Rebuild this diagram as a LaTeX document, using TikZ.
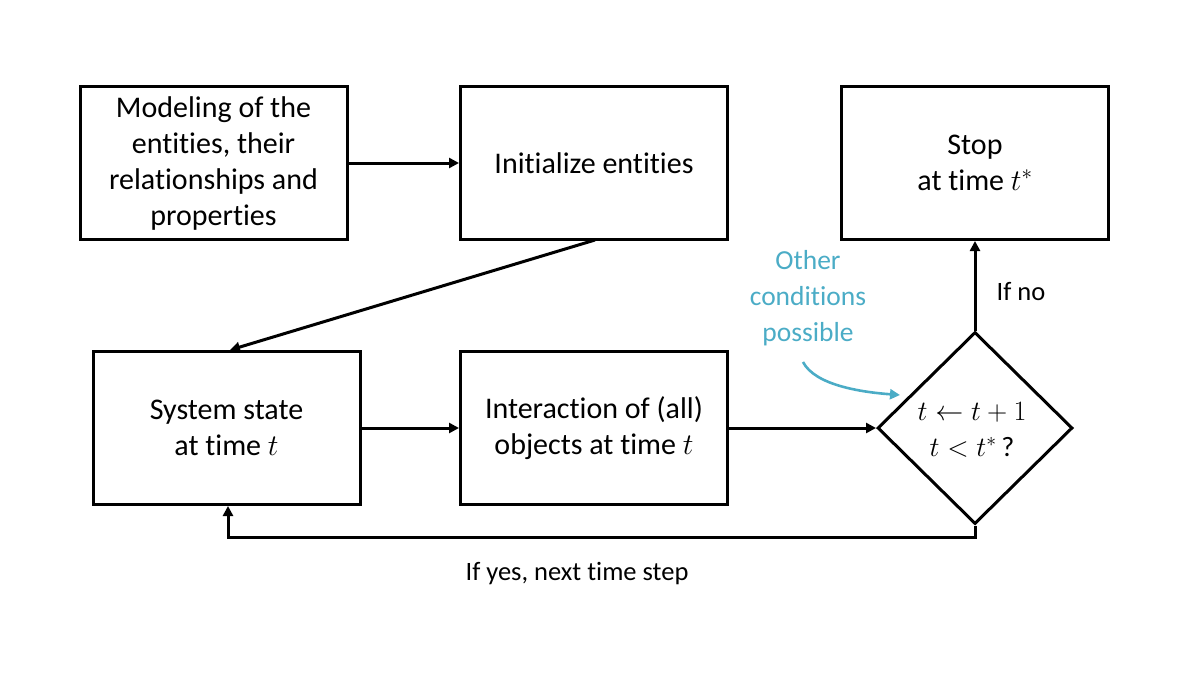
\RequirePackage{fix-cm}
\documentclass[tikz,border=0pt]{standalone}
\usepackage{fontspec}
\setmainfont{Carlito}[RawFeature=-liga]
\usetikzlibrary{arrows.meta,shapes.geometric}
\definecolor{teal1}{RGB}{75,172,198}
\begin{document}
\begin{tikzpicture}[x=1pt,y=-1pt,
  box/.style={draw,line width=3pt,minimum width=267pt,minimum height=153pt,align=center,inner sep=0pt,font=\fontsize{30}{36}\selectfont},
  arr/.style={line width=3pt,-{Triangle[length=10pt,width=10pt]}},
  lbl/.style={font=\fontsize{26.5}{36}\selectfont,align=center}]
\useasboundingbox (0,0) rectangle (1200,675);
\node[box] (A) at (213.5,163) {Modeling of the\\entities, their\\relationships and\\properties};
\node[box] (B) at (594,163) {Initialize entities};
\node[box] (C) at (975,163) {Stop\\at time $t^*$};
\node[box] (D) at (226.5,428) {System state\\at time $t$};
\node[box] (E) at (594,428) {Interaction of (all)\\objects at time $t$};
\node[draw,line width=3pt,diamond,minimum width=195pt,minimum height=192pt,inner sep=0pt,aspect=1.0] (F) at (975,428) {};
\node[font=\fontsize{28}{36}\selectfont,align=center] (Ft) at (972,430) {$t\leftarrow t+1$\\$t<t^*\,$?};
\draw[arr] (A.east) -- (B.west);
\draw[arr] (595,240) -- (230,350);
\draw[arr] (D.east) -- (E.west);
\draw[arr] (E.east) -- (F.west);
\draw[arr] (F.north) -- (C.south);
\coordinate (r) at (975,537);
\coordinate (l) at (228,537);
\draw[arr] (F.south) -- (r) -- (l) -- (l|-D.south);
\node[lbl] (no) at (1021,292) {If no};
\node[lbl] (yes) at (577,574) {If yes, next time step};
\node[font=\fontsize{27.5}{36}\selectfont,align=center,text=teal1] (oth) at (808,298) {Other\\conditions\\possible};
\draw[teal1,line width=2.6pt,-{Triangle[length=10pt,width=10pt]}] (803,362) .. controls (815,385) and (860,392) .. (900,395);
\end{tikzpicture}
\end{document}
